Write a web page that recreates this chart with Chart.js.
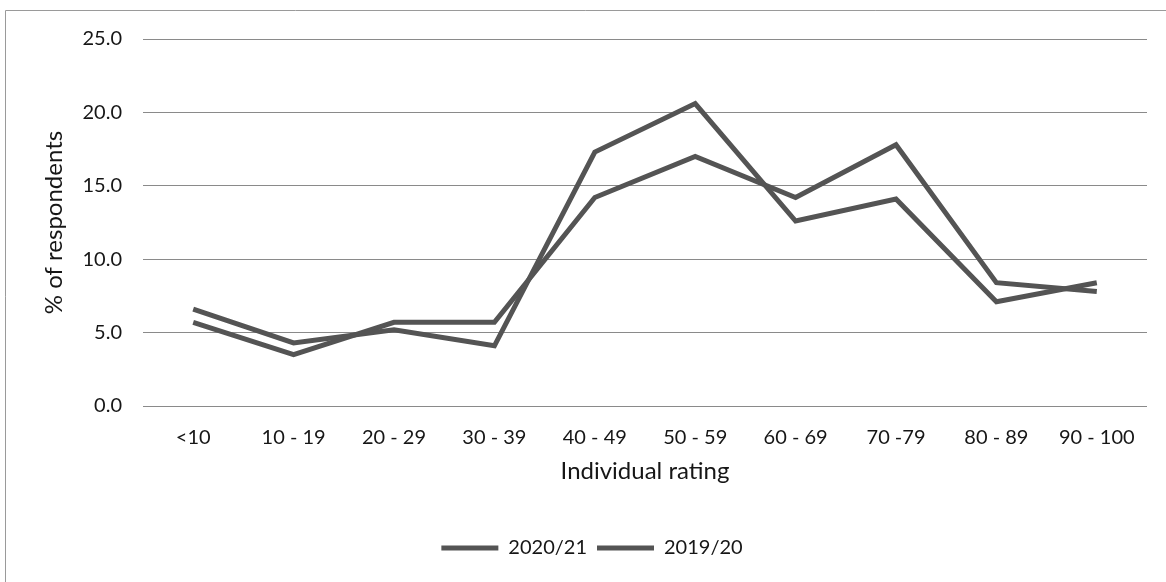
<!DOCTYPE html>
<html>
<head>
<meta charset="utf-8">
<script src="https://cdn.jsdelivr.net/npm/chart.js@4.4.1/dist/chart.umd.min.js"></script>
<style>
  html, body { margin: 0; padding: 0; background: #fff; }
  #wrap { width: 1166px; height: 582px; position: relative; }
</style>
</head>
<body>
<div id="wrap"><canvas id="c" width="1166" height="582"></canvas></div>
<script>
// Rating bands on the x axis
const categories = ['<10', '10 - 19', '20 - 29', '30 - 39', '40 - 49', '50 - 59', '60 - 69', '70 -79', '80 - 89', '90 - 100'];

// Share of respondents per band (%)
const series2021 = [6.6, 4.3, 5.2, 4.1, 17.3, 20.6, 12.6, 14.1, 7.1, 8.4];
const series1920 = [5.7, 3.5, 5.7, 5.7, 14.2, 17.0, 14.2, 17.8, 8.4, 7.8];

const seriesLabels = ['2020/21', '2019/20'];

// Value axis
const yMin = 0;
const yMax = 25;
const yStep = 5;

const LINE = '#545454';
const TEXT = '#161616';
const FONT = 'Lato, "Open Sans", sans-serif';
const PAD_LEFT = 37;

// Thin frame along the top and left edges of the page
const framePlugin = {
  id: 'frame',
  beforeDraw(chart) {
    const ctx = chart.ctx;
    ctx.save();
    ctx.fillStyle = '#ffffff';
    ctx.fillRect(0, 0, chart.width, chart.height);
    ctx.strokeStyle = '#9a9a9a';
    ctx.lineWidth = 1;
    ctx.beginPath();
    ctx.moveTo(5.5, chart.height);
    ctx.lineTo(5.5, 10.5);
    ctx.lineTo(chart.width, 10.5);
    ctx.stroke();
    ctx.restore();
  }
};

new Chart(document.getElementById('c'), {
  type: 'line',
  data: {
    labels: categories,
    datasets: [
      {
        label: seriesLabels[0],
        data: series2021,
        borderColor: LINE,
        backgroundColor: LINE,
        borderWidth: 5,
        pointRadius: 0,
        pointHoverRadius: 0,
        tension: 0,
        fill: false
      },
      {
        label: seriesLabels[1],
        data: series1920,
        borderColor: LINE,
        backgroundColor: LINE,
        borderWidth: 5,
        pointRadius: 0,
        pointHoverRadius: 0,
        tension: 0,
        fill: false
      }
    ]
  },
  options: {
    responsive: false,
    animation: false,
    devicePixelRatio: 1,
    layout: { padding: { top: 39, right: 19, bottom: 14, left: PAD_LEFT } },
    plugins: {
      legend: {
        position: 'bottom',
        labels: {
          usePointStyle: true,
          pointStyle: 'line',
          pointStyleWidth: 57,
          boxHeight: 20,
          padding: 10,
          color: TEXT,
          font: { family: FONT, size: 20 }
        }
      },
      tooltip: { enabled: false }
    },
    scales: {
      x: {
        offset: true,
        grid: { display: false, drawTicks: false },
        border: { display: false },
        ticks: {
          color: TEXT,
          padding: 20,
          maxRotation: 0,
          autoSkip: false,
          font: { family: FONT, size: 20 }
        },
        title: {
          display: true,
          text: 'Individual rating',
          color: TEXT,
          font: { family: FONT, size: 24 },
          padding: { top: 0, bottom: 42 }
        },
        afterFit(scale) { scale.height = 122; }
      },
      y: {
        min: yMin,
        max: yMax,
        grid: { color: '#8a8a8a', lineWidth: 1, drawTicks: false },
        border: { display: false },
        ticks: {
          stepSize: yStep,
          color: TEXT,
          padding: 21,
          font: { family: FONT, size: 20 },
          callback: (v) => Number(v).toFixed(1)
        },
        title: {
          display: true,
          text: '% of respondents',
          color: TEXT,
          font: { family: FONT, size: 24 },
          padding: { top: 54 - PAD_LEFT - 14, bottom: 0 }
        },
        afterFit(scale) { scale.width = 143 - PAD_LEFT; }
      }
    }
  },
  plugins: [framePlugin]
});
</script>
</body>
</html>
